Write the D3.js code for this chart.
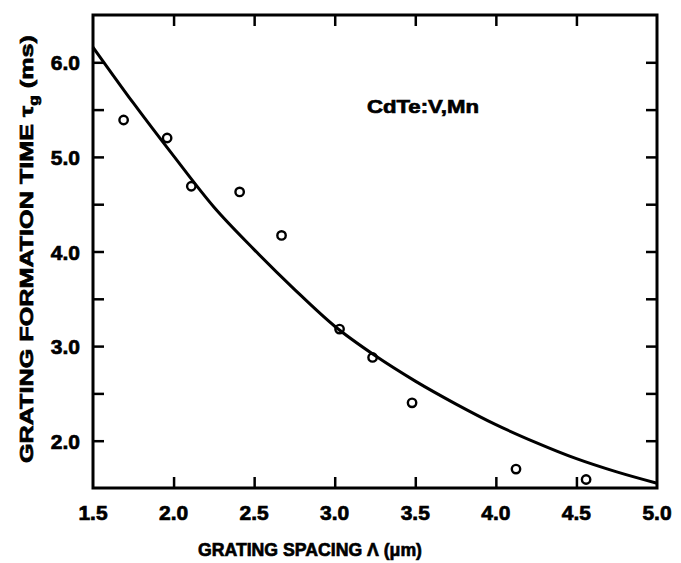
<!DOCTYPE html>
<html lang="en">
<head>
  <meta charset="UTF-8">
  <title>Grating formation time vs grating spacing</title>
  <style>
  body {
    margin: 0;
    background: #fff;
  }
  svg text {
    font-family: "Liberation Sans", Arial, sans-serif;
    font-weight: bold;
    fill: #000;
    stroke: #000;
    stroke-width: 0.7px;
  }
  </style>
</head>
<body>
  <script src="https://d3js.org/d3.v7.min.js"></script>
  <script>

  // measured points (open circles)
  var pointSpacing = [1.69, 1.96, 2.11, 2.41, 2.67, 3.03, 3.235, 3.48, 4.125, 4.56];
  var pointTime    = [5.39, 5.20, 4.69, 4.63, 4.17, 3.18, 2.88, 2.40, 1.70, 1.59];

  // fitted curve
  var fitSpacing = [1.5, 1.75, 2.0, 2.25, 2.5, 2.75, 3.0, 3.25, 3.5, 3.75, 4.0, 4.25, 4.5, 4.75, 5.0];
  var fitTime    = [6.16, 5.57, 5.01, 4.47, 4.02, 3.60, 3.21, 2.90, 2.63, 2.39, 2.17, 1.98, 1.81, 1.67, 1.55];

  var xTickValues = [1.5, 2.0, 2.5, 3.0, 3.5, 4.0, 4.5, 5.0];
  var yTickValues = [1.5, 2.0, 2.5, 3.0, 3.5, 4.0, 4.5, 5.0, 5.5, 6.0, 6.5];
  var yLabelValues = [2.0, 3.0, 4.0, 5.0, 6.0];

  var width = 681;
  var height = 563;
  var margin = { top: 15, right: 24, bottom: 75, left: 93 };
  var plotW = width - margin.left - margin.right;
  var plotH = height - margin.top - margin.bottom;
  var tickLen = 11;

  var svg = d3.select('body').append('svg')
              .attr('width', width)
              .attr('height', height);

  var x = d3.scaleLinear().domain([1.5, 5.0]).range([0, plotW]);
  var y = d3.scaleLinear().domain([1.5, 6.5]).range([plotH, 0]);

  var g = svg.append('g')
             .attr('transform', 'translate(' + margin.left + ',' + margin.top + ')');

  // inward ticks on all four sides
  var innerX = xTickValues.slice(1, -1);
  var innerY = yTickValues.slice(1, -1);

  g.append('g')
   .call(d3.axisBottom(x).tickValues(innerX).tickSize(-tickLen).tickFormat(''))
   .attr('transform', 'translate(0,' + plotH + ')');
  g.append('g')
   .call(d3.axisTop(x).tickValues(innerX).tickSize(-tickLen).tickFormat(''));
  g.append('g')
   .call(d3.axisLeft(y).tickValues(innerY).tickSize(-tickLen).tickFormat(''));
  g.append('g')
   .call(d3.axisRight(y).tickValues(innerY).tickSize(-tickLen).tickFormat(''))
   .attr('transform', 'translate(' + plotW + ',0)');

  g.selectAll('.domain').remove();
  g.selectAll('.tick line')
   .attr('stroke', '#000')
   .attr('stroke-width', 2.5);

  // frame
  g.append('rect')
   .attr('x', 0)
   .attr('y', 0)
   .attr('width', plotW)
   .attr('height', plotH)
   .attr('fill', 'none')
   .attr('stroke', '#000')
   .attr('stroke-width', 3);

  // tick labels
  g.selectAll('.xlabel')
   .data(xTickValues)
   .enter()
   .append('text')
   .attr('class', 'xlabel')
   .attr('x', function (d) { return x(d); })
   .attr('y', plotH + 32)
   .attr('text-anchor', 'middle')
   .style('font-size', '21px')
   .text(d3.format('.1f'));

  g.selectAll('.ylabel')
   .data(yLabelValues)
   .enter()
   .append('text')
   .attr('class', 'ylabel')
   .attr('x', -13)
   .attr('y', function (d) { return y(d) + 8; })
   .attr('text-anchor', 'end')
   .style('font-size', '21px')
   .text(d3.format('.1f'));

  // fit curve
  var fit = fitSpacing.map(function (s, i) { return [s, fitTime[i]]; });
  var line = d3.line()
               .x(function (d) { return x(d[0]); })
               .y(function (d) { return y(d[1]); })
               .curve(d3.curveMonotoneX);

  g.append('path')
   .datum(fit)
   .attr('d', line)
   .attr('fill', 'none')
   .attr('stroke', '#000')
   .attr('stroke-width', 3);

  // data points
  var pts = pointSpacing.map(function (s, i) { return [s, pointTime[i]]; });
  g.selectAll('.pt')
   .data(pts)
   .enter()
   .append('circle')
   .attr('class', 'pt')
   .attr('cx', function (d) { return x(d[0]); })
   .attr('cy', function (d) { return y(d[1]); })
   .attr('r', 4.2)
   .attr('fill', 'none')
   .attr('stroke', '#000')
   .attr('stroke-width', 2.4);

  // annotation
  g.append('text')
   .attr('x', x(3.2))
   .attr('y', y(5.5) + 3)
   .attr('textLength', 112)
   .attr('lengthAdjust', 'spacingAndGlyphs')
   .style('font-size', '19px')
   .text('CdTe:V,Mn');

  // axis titles
  svg.append('text')
     .attr('x', 310)
     .attr('y', 556)
     .attr('text-anchor', 'middle')
     .attr('textLength', 224)
     .attr('lengthAdjust', 'spacingAndGlyphs')
     .style('font-size', '19px')
     .text('GRATING SPACING \u039B (\u03BCm)');

  var yTitle = svg.append('text')
     .attr('transform', 'translate(33,249) rotate(-90)')
     .attr('text-anchor', 'middle')
     .attr('textLength', 428)
     .attr('lengthAdjust', 'spacingAndGlyphs')
     .style('font-size', '19px');
  yTitle.append('tspan').text('GRATING FORMATION TIME \u03C4');
  yTitle.append('tspan').attr('dy', 5).style('font-size', '13px').text('g');
  yTitle.append('tspan').attr('dy', -5).text(' (ms)');
  </script>
</body>
</html>
